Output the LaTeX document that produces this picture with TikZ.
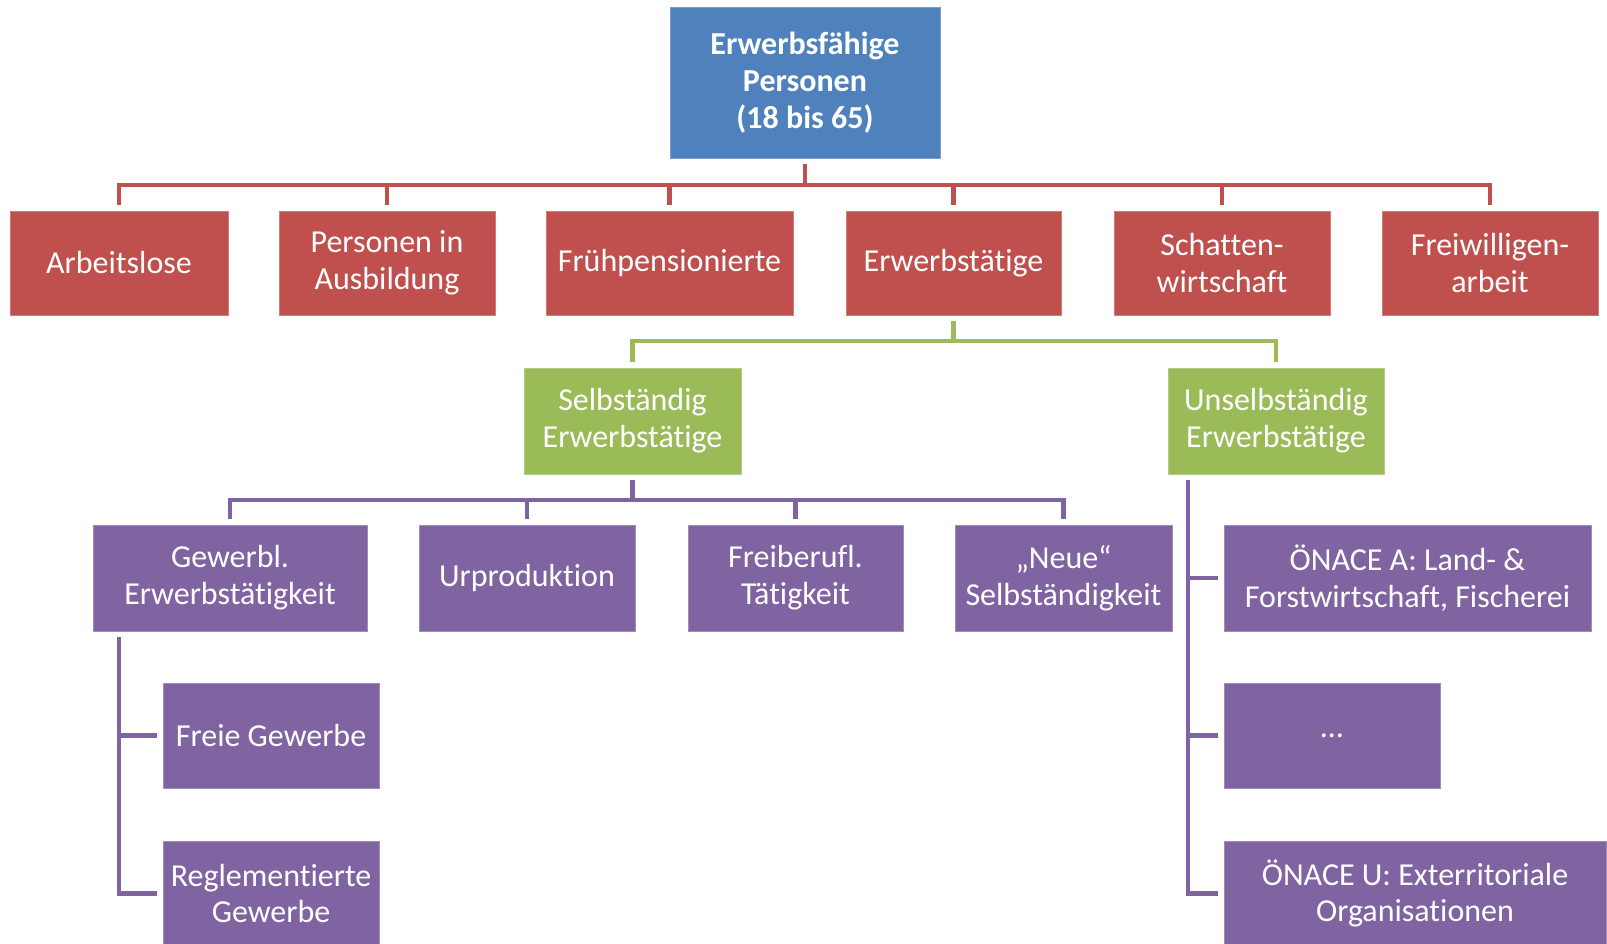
\documentclass[tikz,border=0pt]{standalone}
\usepackage{fontspec}
\setmainfont{Carlito}[Ligatures=NoCommon]
\begin{document}
\begin{tikzpicture}[x=0.5pt,y=-0.5pt,
  box/.style={rectangle, inner sep=0pt, outer sep=3pt, align=center, text=white,
    font=\fontsize{16}{18.4}\selectfont, line width=0.4pt},
  bluebox/.style={box, fill=cblue, draw=cblue!75!white, font=\fontsize{16}{18.4}\selectfont\bfseries},
  redbox/.style={box, fill=cred, draw=cred!75!white},
  greenbox/.style={box, fill=cgreen, draw=cgreen!75!white},
  purplebox/.style={box, fill=cpurple, draw=cpurple!75!white},
  redline/.style={draw=cred, line width=2.3pt},
  greenline/.style={draw=cgreen, line width=2.3pt},
  purpleline/.style={draw=cpurple, line width=2.3pt}]
% \clip (0,0) rectangle (1607,943);
\useasboundingbox (0,0) rectangle (1607,943);

% Changing colors
\definecolor{cblue}{RGB}{79,129,189}%
\definecolor{cred}{RGB}{192,80,77}%
\definecolor{cgreen}{RGB}{155,187,89}%
\definecolor{cpurple}{RGB}{128,100,162}%

% Drawing box top
\node [bluebox, minimum width=135pt, minimum height=75.5pt] (top) at (805,82.5) {Erwerbsfähige\\Personen\\(18 bis 65)};

% Drawing red boxes
\node [redbox, minimum width=109pt, minimum height=52pt] (arb) at (119,263) {Arbeitslose};
\node [redbox, minimum width=108pt, minimum height=52pt] (pers) at (387,263) {Personen in\\Ausbildung};
\node [redbox, minimum width=123.5pt, minimum height=52pt] (frueh) at (669.5,263) {Frühpensionierte};
\node [redbox, minimum width=107.5pt, minimum height=52pt] (erw) at (953.5,263) {Erwerbstätige};
\node [redbox, minimum width=108pt, minimum height=52pt] (schatten) at (1222,263) {Schatten-\\wirtschaft};
\node [redbox, minimum width=108pt, minimum height=52pt] (frei) at (1490,263) {Freiwilligen-\\arbeit};

% Drawing green boxes
\node [greenbox, minimum width=108.5pt, minimum height=53pt] (selb) at (632.5,421) {Selbständig\\Erwerbstätige};
\node [greenbox, minimum width=108pt, minimum height=53pt] (unselb) at (1276,421) {Unselbständig\\Erwerbstätige};

% Drawing purple boxes
\node [purplebox, minimum width=137pt, minimum height=53pt] (gew) at (230,578) {Gewerbl.\\Erwerbstätigkeit};
\node [purplebox, minimum width=108pt, minimum height=53pt] (urp) at (527,578) {Urproduktion};
\node [purplebox, minimum width=107.5pt, minimum height=53pt] (freib) at (795.5,578) {Freiberufl.\\Tätigkeit};
\node [purplebox, minimum width=108.5pt, minimum height=53pt] (neue) at (1063.5,578) {„Neue“\\Selbständigkeit};
\node [purplebox, minimum width=183.5pt, minimum height=53pt] (onacea) at (1407.5,578) {ÖNACE A: Land- \&\\Forstwirtschaft, Fischerei};
\node [purplebox, minimum width=108pt, minimum height=52.5pt] (freie) at (271,735.5) {Freie Gewerbe};
\node [purplebox, minimum width=108pt, minimum height=52.5pt] (regl) at (271,893.5) {Reglementierte\\Gewerbe};
\node [purplebox, minimum width=108pt, minimum height=52.5pt] (dots) at (1332,735.5) {…};
\node [purplebox, minimum width=191pt, minimum height=52.5pt] (onaceu) at (1415,893.5) {ÖNACE U: Exterritoriale\\Organisationen};

% Drawing connectors top
\coordinate (redbus) at (805,185);
\draw [redline] (top.south) -- (redbus) -| (arb.north);
\draw [redline] (top.south) -- (redbus) -| (pers.north);
\draw [redline] (top.south) -- (redbus) -| (frueh.north);
\draw [redline] (top.south) -- (redbus) -| (erw.north);
\draw [redline] (top.south) -- (redbus) -| (schatten.north);
\draw [redline] (top.south) -- (redbus) -| (frei.north);

% Drawing connectors erw
\coordinate (greenbus) at (953.5,341);
\draw [greenline] (erw.south) -- (greenbus) -| (selb.north);
\draw [greenline] (erw.south) -- (greenbus) -| (unselb.north);

% Drawing connectors selb
\coordinate (purplebus) at (632.5,500);
\draw [purpleline] (selb.south) -- (purplebus) -| (gew.north);
\draw [purpleline] (selb.south) -- (purplebus) -| (urp.north);
\draw [purpleline] (selb.south) -- (purplebus) -| (freib.north);
\draw [purpleline] (selb.south) -- (purplebus) -| (neue.north);

% Drawing connectors gew
\coordinate (gewbar) at (119,637);
\draw [purpleline] (gewbar) |- (freie.west);
\draw [purpleline] (gewbar) |- (regl.west);

% Drawing connectors unselb
\coordinate (unselbbar) at (1188,480);
\draw [purpleline] (unselbbar) |- (onacea.west);
\draw [purpleline] (unselbbar) |- (dots.west);
\draw [purpleline] (unselbbar) |- (onaceu.west);
\end{tikzpicture}
\end{document}
